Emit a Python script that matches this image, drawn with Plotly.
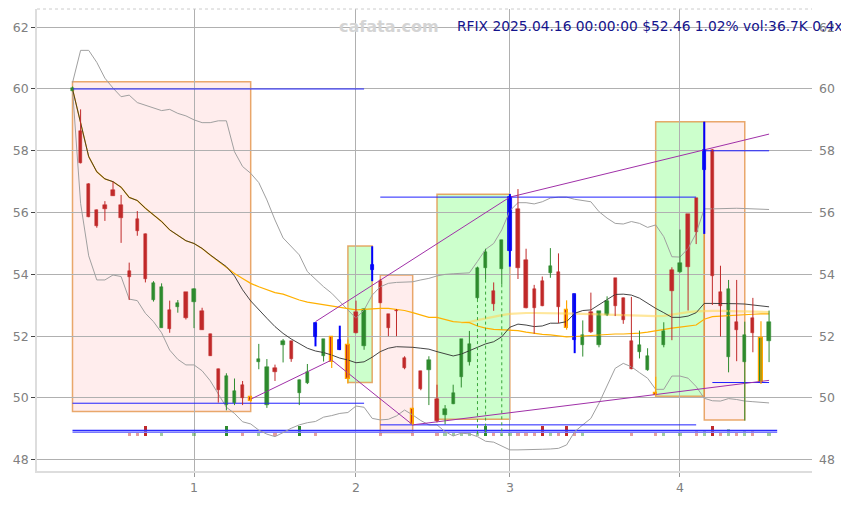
import plotly.graph_objects as go

# ---------------- data ----------------
candle_idx = list(range(87))
opens = [59.95, 58.65, 56.94, 56.08, 56.26, 56.73, 56.24, 54.11, 55.78, 55.32,
         53.17, 52.28, 52.84, 52.95, 53.43, 53.11, 52.80, 52.08, 50.95, 49.77,
         49.85, 50.41, 50.04, 51.15, 49.77, 50.98, 51.73, 51.83, 50.17, 50.48,
         52.44, 51.37, 51.96, 51.88, 51.71, 52.78, 51.67, 54.13, 53.80, 52.72,
         52.85, 51.31, 49.63, 50.88, 50.90, 49.97, 49.46, 49.82, 50.69, 51.16,
         53.22, 54.21, 53.47, 54.17, 54.77, 56.11, 54.48, 53.52, 53.79, 54.03,
         54.07, 52.86, 53.35, 51.73, 52.77, 51.73, 52.67, 53.87, 53.25, 51.83,
         51.50, 50.91, 50.12, 51.70, 54.15, 54.07, 55.95, 56.46, 57.38, 58.02,
         53.44, 51.32, 52.47, 51.16, 52.59, 50.48, 51.86]
highs = [60.08, 59.34, 56.95, 56.10, 56.37, 57.00, 56.57, 54.38, 56.05, 55.32,
         53.78, 53.71, 53.15, 53.17, 53.43, 53.55, 52.92, 52.08, 50.95, 50.80,
         50.63, 50.55, 50.06, 51.75, 51.26, 51.08, 51.91, 51.83, 50.60, 51.10,
         52.44, 51.91, 51.98, 52.34, 51.89, 53.15, 52.90, 54.91, 53.85, 52.72,
         52.88, 51.35, 49.65, 50.88, 51.35, 50.43, 49.77, 50.43, 51.90, 52.17,
         54.25, 54.83, 53.74, 55.12, 56.60, 56.76, 54.83, 53.66, 53.93, 54.85,
         54.68, 53.16, 53.35, 52.51, 53.41, 52.80, 53.29, 53.87, 53.25, 53.27,
         52.18, 51.61, 50.69, 52.45, 54.23, 55.45, 55.95, 56.46, 58.94, 58.05,
         54.28, 53.82, 53.82, 52.47, 53.24, 52.48, 52.83]
lows = [59.93, 57.59, 55.85, 55.51, 55.73, 56.54, 55.02, 53.17, 55.25, 53.74,
        53.12, 52.28, 52.11, 52.76, 52.54, 52.26, 52.20, 51.36, 49.85, 49.60,
        49.77, 49.77, 49.88, 50.93, 49.68, 50.55, 51.15, 51.17, 49.77, 50.45,
        51.67, 51.18, 50.97, 51.55, 50.47, 52.09, 51.56, 53.78, 53.07, 52.00,
        52.00, 50.93, 49.13, 50.25, 49.77, 49.21, 49.15, 49.80, 50.34, 51.05,
        53.20, 53.83, 52.82, 53.68, 54.25, 53.85, 52.90, 52.08, 52.97, 53.89,
        52.42, 52.21, 51.45, 51.34, 52.10, 51.64, 52.65, 52.65, 52.40, 50.93,
        51.28, 50.88, 50.08, 51.64, 51.87, 54.05, 52.83, 54.98, 55.31, 53.01,
        51.99, 50.83, 51.19, 49.27, 51.48, 50.45, 51.16]
closes = [60.03, 57.59, 55.86, 55.57, 56.10, 56.54, 55.81, 53.92, 55.41, 53.84,
          53.73, 53.58, 52.22, 53.08, 52.60, 53.52, 52.21, 51.36, 50.25, 50.72,
          50.23, 50.00, 49.90, 51.27, 51.01, 50.83, 51.86, 51.27, 50.58, 50.85,
          51.96, 51.91, 51.15, 51.55, 50.61, 52.09, 52.88, 54.29, 53.07, 52.27,
          52.80, 50.96, 49.15, 50.28, 51.23, 49.26, 49.64, 50.16, 51.90, 51.75,
          54.21, 54.72, 53.05, 55.12, 56.51, 54.21, 52.90, 52.90, 52.98, 54.27,
          52.95, 52.27, 51.88, 52.04, 52.13, 52.80, 53.13, 52.97, 52.53, 50.93,
          51.70, 51.37, 50.10, 52.18, 53.45, 54.37, 54.23, 55.36, 58.02, 53.94,
          52.99, 53.53, 52.20, 52.04, 52.09, 51.94, 52.46]
volumes_k = [0, 0, 0, 0, 0, 0, 0, 40, 40, 130,
             0, 40, 0, 0, 0, 40, 0, 0, 0, 130,
             0, 40, 0, 40, 0, 40, 0, 0, 130, 0,
             40, 0, 0, 0, 0, 0, 0, 0, 40, 0,
             0, 0, 40, 0, 0, 40, 40, 40, 40, 40,
             40, 130, 40, 40, 40, 40, 40, 40, 130, 40,
             40, 130, 40, 40, 0, 0, 0, 0, 0, 40,
             0, 0, 40, 40, 0, 40, 0, 70, 80, 130,
             40, 90, 40, 80, 60, 0, 37]
blue_candles = [30, 33, 37, 54, 62, 78]
orange_candles = [22, 32, 34, 42, 61, 72, 85]

upper_band = [60.20, 61.25, 61.25, 60.86, 60.35, 60.03, 59.75, 59.80, 59.56, 59.48,
              59.40, 59.30, 59.34, 59.21, 59.13, 59.00, 58.91, 58.91, 58.97, 58.97,
              57.97, 57.49, 57.27, 56.97, 56.41, 55.76, 55.18, 54.90, 54.63, 54.09,
              53.84, 53.60, 53.39, 53.12, 52.85, 52.58, 52.85, 53.33, 53.60, 53.71,
              53.74, 53.75, 53.76, 53.82, 53.87, 53.95, 54.00, 54.02, 54.03, 54.05,
              54.42, 54.81, 55.00, 55.44, 56.06, 56.32, 56.32, 56.28, 56.35, 56.47,
              56.50, 56.50, 56.43, 56.38, 56.35, 56.03, 55.82, 55.65, 55.63, 55.71,
              55.65, 55.52, 55.60, 55.22, 54.57, 54.56, 54.84, 55.33, 56.12, 56.12,
              56.13, 56.15, 56.14, 56.13, 56.12, 56.11, 56.10]
lower_band = [60.00, 56.30, 54.60, 53.82, 53.82, 53.98, 53.93, 53.20, 53.15, 52.74,
              52.47, 52.11, 51.55, 51.25, 51.07, 51.07, 50.88, 50.56, 50.13, 49.70,
              49.50, 49.23, 49.16, 48.96, 48.83, 48.75, 48.88, 49.02, 49.13, 49.20,
              49.24, 49.38, 49.43, 49.50, 49.53, 49.74, 49.70, 49.34, 49.29, 49.31,
              49.42, 49.61, 49.45, 49.27, 49.13, 49.13, 48.91, 48.77, 48.86, 48.84,
              48.75, 48.60, 48.57, 48.45, 48.32, 48.32, 48.32, 48.33, 48.34, 48.35,
              48.37, 48.48, 48.91, 49.13, 49.34, 49.83, 50.39, 50.96, 51.12, 51.01,
              50.82, 50.64, 50.28, 50.28, 50.71, 50.71, 50.64, 50.37, 49.99, 49.91,
              49.90, 49.98, 49.95, 49.90, 49.88, 49.86, 49.84]
mid_line = [60.00, 58.89, 57.81, 57.32, 57.09, 57.00, 56.82, 56.49, 56.39, 56.14,
            55.92, 55.71, 55.44, 55.25, 55.09, 55.00, 54.84, 54.63, 54.44, 54.25,
            53.95, 53.50, 53.14, 52.85, 52.58, 52.31, 52.09, 51.91, 51.75, 51.61,
            51.52, 51.47, 51.39, 51.29, 51.23, 51.14, 51.17, 51.32, 51.50, 51.61,
            51.66, 51.66, 51.64, 51.61, 51.58, 51.50, 51.42, 51.36, 51.42, 51.53,
            51.64, 51.75, 51.82, 51.98, 52.29, 52.39, 52.36, 52.31, 52.33, 52.42,
            52.42, 52.47, 52.74, 52.83, 52.85, 53.01, 53.17, 53.35, 53.36, 53.33,
            53.23, 53.06, 52.90, 52.76, 52.61, 52.61, 52.65, 52.76, 53.06, 53.06,
            53.06, 53.07, 53.05, 53.04, 53.02, 52.98, 52.95]
ma_orange = [60.00, 58.89, 57.81, 57.32, 57.09, 57.00, 56.82, 56.49, 56.39, 56.14,
             55.92, 55.71, 55.44, 55.25, 55.09, 55.00, 54.84, 54.63, 54.44, 54.25,
             54.03, 53.87, 53.71, 53.60, 53.50, 53.41, 53.36, 53.26, 53.17, 53.10,
             53.06, 53.01, 52.98, 52.94, 52.88, 52.85, 52.87, 52.89, 52.90, 52.90,
             52.87, 52.83, 52.76, 52.69, 52.61, 52.61, 52.55, 52.47, 52.45, 52.44,
             52.33, 52.26, 52.22, 52.20, 52.20, 52.18, 52.13, 52.09, 52.06, 52.04,
             52.01, 51.98, 51.99, 52.01, 52.03, 52.04, 52.06, 52.07, 52.07, 52.08,
             52.10, 52.13, 52.18, 52.22, 52.26, 52.29, 52.33, 52.36, 52.55, 52.63,
             52.65, 52.67, 52.69, 52.70, 52.71, 52.72, 52.72]
ma_pale = [None] * 48 + [52.44, 52.46, 52.52, 52.58, 52.63, 52.68, 52.72, 52.74, 52.75, 52.75,
                         52.75, 52.75, 52.75, 52.74, 52.73, 52.72, 52.71, 52.70, 52.69, 52.68,
                         52.67, 52.66, 52.65, 52.65, 52.65, 52.66, 52.70, 52.75, 52.78, 52.80,
                         52.82, 52.82, 52.82, 52.81, 52.80, 52.80, 52.79, 52.78, 52.78]

box_x0 = [0, 34, 38, 45, 72, 78]
box_x1 = [22, 37, 42, 54, 78, 83]
box_top = [60.23, 54.92, 53.98, 56.59, 58.94, 58.94]
box_bottom = [49.56, 50.50, 48.88, 49.31, 50.06, 49.29]
box_kind = ["down", "up", "down", "up", "up", "down"]

level_val = [60.00, 49.83, 56.50, 49.13, 58.00, 50.50]
level_x0 = [0, 0, 38, 38, 78, 79]
level_x1 = [36, 36, 77, 77, 86, 86]
floor_val = [48.95, 48.89]
floor_x0 = 0
floor_x1 = 87

trend_x0 = [22, 32, 42, 30, 54]
trend_y0 = [49.96, 51.23, 49.13, 52.47, 56.50]
trend_x1 = [32, 42, 86, 54, 86]
trend_y1 = [51.23, 49.13, 50.57, 56.50, 58.54]

dotted_candles = [50, 51, 53]

x_tick_vals = [15, 35, 54, 75]
x_tick_text = ["1", "2", "3", "4"]
y_tick_vals = [48, 50, 52, 54, 56, 58, 60, 62]

title_text = "RFIX 2025.04.16 00:00:00 $52.46 1.02% vol:36.7K 0.4x"
watermark = "cafata.com"

# ---------------- style ----------------
RED = "#c02a2a"
GREEN = "#2e8b2e"
BLUE = "#0000ff"
ORANGE = "#ffa500"
VOL_BASE = 48.77
VOL_SCALE = 0.0025
BODY_W = 0.4

fig = go.Figure()

# boxes
for x0, x1, y0, y1, k in zip(box_x0, box_x1, box_bottom, box_top, box_kind):
    fill = "rgba(0,255,0,0.2)" if k == "up" else "rgba(255,0,0,0.07)"
    fig.add_shape(type="rect", xref="x", yref="y", x0=x0, x1=x1, y0=y0, y1=y1,
                  fillcolor=fill, line=dict(color="rgba(225,140,60,0.75)", width=1.5),
                  layer="below")

# top dotted frame
fig.add_shape(type="line", xref="paper", yref="paper", x0=0, x1=1, y0=1, y1=1,
              line=dict(color="#cccccc", width=1, dash="dot"))

# volume bars
vx, vy, vc = [], [], []
for i in candle_idx:
    v = volumes_k[i]
    if v <= 0:
        continue
    up = closes[i] >= opens[i]
    alpha = 1.0 if v >= 100 else 0.45
    col = f"rgba(46,139,46,{alpha})" if up else f"rgba(192,42,42,{alpha})"
    vx.append(i)
    vy.append(v * VOL_SCALE)
    vc.append(col)
fig.add_trace(go.Bar(x=vx, y=vy, base=[VOL_BASE] * len(vx), width=BODY_W,
                     marker=dict(color=vc, line=dict(width=0)), hoverinfo="skip"))

# floor lines
fig.add_trace(go.Scatter(x=[floor_x0, floor_x1], y=[floor_val[0]] * 2, mode="lines",
                         line=dict(color="#2a2aff", width=1.5), hoverinfo="skip"))
fig.add_trace(go.Scatter(x=[floor_x0, floor_x1], y=[floor_val[1]] * 2, mode="lines",
                         line=dict(color="#7a7aff", width=1.5), hoverinfo="skip"))

# bands and MAs
fig.add_trace(go.Scatter(x=candle_idx, y=upper_band, mode="lines",
                         line=dict(color="#a0a0a0", width=1), hoverinfo="skip"))
fig.add_trace(go.Scatter(x=candle_idx, y=lower_band, mode="lines",
                         line=dict(color="#a0a0a0", width=1), hoverinfo="skip"))
fig.add_trace(go.Scatter(x=candle_idx, y=ma_pale, mode="lines",
                         line=dict(color="rgba(255,215,90,0.6)", width=2.2), hoverinfo="skip"))
fig.add_trace(go.Scatter(x=candle_idx, y=ma_orange, mode="lines",
                         line=dict(color="#ffb000", width=1.2), hoverinfo="skip"))
fig.add_trace(go.Scatter(x=candle_idx, y=mid_line, mode="lines",
                         line=dict(color="#303030", width=0.9), hoverinfo="skip"))

# level lines
lx, ly = [], []
for v, a, b in zip(level_val, level_x0, level_x1):
    lx += [a, b, None]
    ly += [v, v, None]
fig.add_trace(go.Scatter(x=lx, y=ly, mode="lines", line=dict(color="#2020ff", width=1),
                         hoverinfo="skip"))

# trend lines
tx, ty = [], []
for a, b, c, d in zip(trend_x0, trend_y0, trend_x1, trend_y1):
    tx += [a, c, None]
    ty += [b, d, None]
fig.add_trace(go.Scatter(x=tx, y=ty, mode="lines", line=dict(color="#a030a8", width=1),
                         hoverinfo="skip"))

# dotted green drop lines
dx, dy = [], []
for i in dotted_candles:
    dx += [i, i, None]
    dy += [lows[i], VOL_BASE, None]
fig.add_trace(go.Scatter(x=dx, y=dy, mode="lines",
                         line=dict(color="#3aa63a", width=1, dash="dot"), hoverinfo="skip"))

# wicks
groups = {"red": ([], [], RED, 1), "green": ([], [], GREEN, 1),
          "blue": ([], [], BLUE, 2), "orange": ([], [], ORANGE, 1.2)}
for i in candle_idx:
    if i in blue_candles:
        g = "blue"
    elif i in orange_candles:
        g = "orange"
    elif closes[i] >= opens[i]:
        g = "green"
    else:
        g = "red"
    groups[g][0].extend([i, i, None])
    groups[g][1].extend([lows[i], highs[i], None])
for name, (gx, gy, col, w) in groups.items():
    fig.add_trace(go.Scatter(x=gx, y=gy, mode="lines", line=dict(color=col, width=w),
                             hoverinfo="skip"))

# bodies
bx, bb, bh, bc, blc, blw = [], [], [], [], [], []
for i in candle_idx:
    lo = min(opens[i], closes[i])
    h = max(abs(closes[i] - opens[i]), 0.05)
    up = closes[i] >= opens[i]
    if i in blue_candles:
        col, lc, lw = "#2222bb", BLUE, 0.8
    elif i in orange_candles:
        col, lc, lw = (GREEN if up else RED), ORANGE, 1.2
    else:
        col, lc, lw = (GREEN if up else RED), (GREEN if up else RED), 0.5
    bx.append(i); bb.append(lo); bh.append(h); bc.append(col); blc.append(lc); blw.append(lw)
fig.add_trace(go.Bar(x=bx, y=bh, base=bb, width=BODY_W,
                     marker=dict(color=bc, line=dict(color=blc, width=blw)), hoverinfo="skip"))

# dummy for right axis
fig.add_trace(go.Scatter(x=[0], y=[55], yaxis="y2", mode="markers",
                         marker=dict(opacity=0), hoverinfo="skip"))

# text
fig.add_annotation(xref="paper", yref="paper", x=(389 - 37) / 775, y=(471 - 26) / 462,
                   text="<b>" + watermark + "</b>", showarrow=False,
                   font=dict(family="DejaVu Sans", size=16, color="#d4d4d4"),
                   xanchor="center", yanchor="middle")
fig.add_annotation(xref="paper", yref="paper", x=(455 - 37) / 775, y=(471 - 26) / 462,
                   text=title_text, showarrow=False,
                   font=dict(family="DejaVu Sans", size=13.8, color="#14148c"),
                   xanchor="left", yanchor="middle")

yr = [47.637, 62.588]
tickfont = dict(family="DejaVu Sans", size=12.5, color="#808080")
# page body has an 8px margin, so the figure is offset by 8px; compensate here
fig.update_layout(
    width=841, height=497,
    margin=dict(l=29, r=37, t=1, b=34),
    plot_bgcolor="white", paper_bgcolor="white",
    showlegend=False, barmode="overlay", bargap=0,
    font=dict(family="DejaVu Sans"),
    xaxis=dict(range=[-4.383, 91.3], tickvals=x_tick_vals, ticktext=x_tick_text,
               showgrid=True, gridcolor="#b0b0b0", gridwidth=1, zeroline=False,
               showline=True, linecolor="#dddddd", linewidth=1.5,
               ticks="outside", ticklen=4, tickcolor="#999999", tickfont=tickfont),
    yaxis=dict(range=yr, tickvals=y_tick_vals, showgrid=True, gridcolor="#b0b0b0",
               gridwidth=1, zeroline=False, showline=True, linecolor="#dddddd",
               linewidth=1.5, ticks="outside", ticklen=4, tickcolor="#444444",
               tickfont=tickfont),
    yaxis2=dict(range=yr, overlaying="y", side="right", tickvals=y_tick_vals,
                showgrid=False, zeroline=False, showline=False, ticks="",
                ticklabelstandoff=6, tickfont=tickfont),
)

fig.write_html("out.html")
